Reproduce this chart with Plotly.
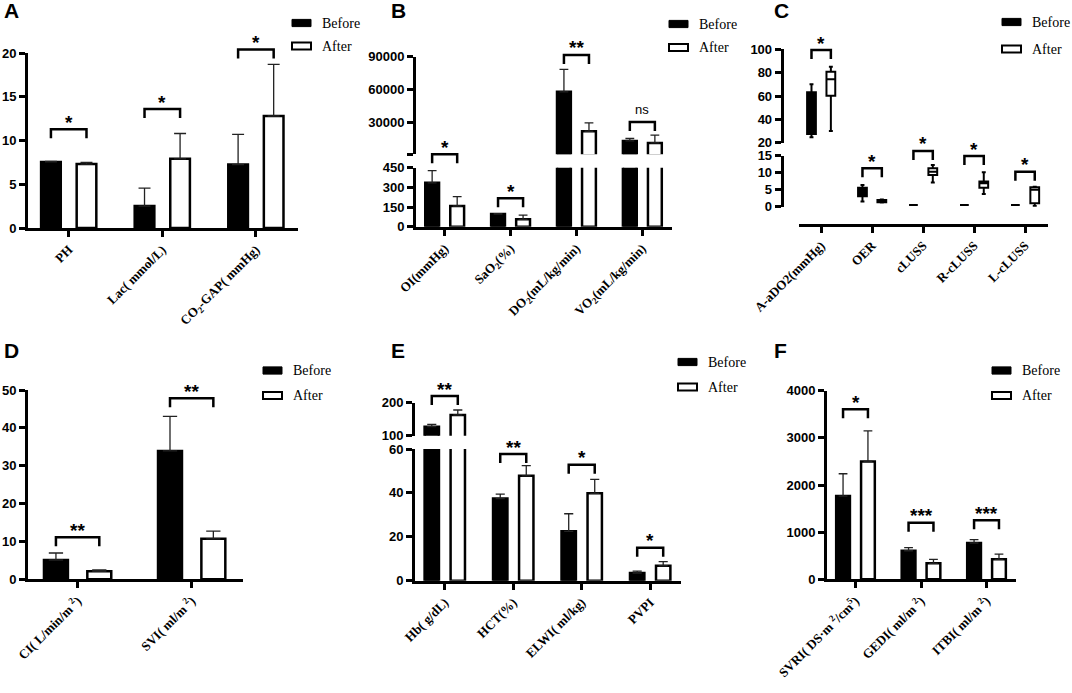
#
# Six panel before/after comparison (bars + SD, one box panel, broken axes)
#
import plotly.graph_objects as go

W, H = 1072, 693

# ---- A ----
a_cats = ["PH", "Lac( mmol/L)", "CO<sub>2</sub>-GAP( mmHg)"]
a_before = [7.55, 2.5, 7.25]
a_before_sd = [0.05, 2.05, 3.45]
a_after = [7.3, 7.9, 12.8]
a_after_sd = [0.2, 2.9, 5.9]
a_sig = ["*", "*", "*"]
a_bracket = [11.3, 13.6, 20.4]

# ---- B ----
b_cats = ["OI(mmHg)", "SaO<sub>2</sub>(%)", "DO<sub>2</sub>(mL/kg/min)", "VO<sub>2</sub>(mL/kg/min)"]
b_before = [335, 97, 58000, 13200]
b_before_sd = [92, 3, 20500, 2200]
b_after = [158, 56, 22000, 11400]
b_after_sd = [71, 33, 7600, 7000]
b_sig = ["*", "*", "**", "ns"]
b_bracket = [552, 217, 91600, 30500]

# ---- C (box plots) ----
c_cats = ["A-aDO2(mmHg)", "OER", "cLUSS", "R-cLUSS", "L-cLUSS"]
c_before_min = [24.6, 1.5, 0.5, 0.5, 0.5]
c_before_q1 = [27.5, 3.1, 0.5, 0.5, 0.5]
c_before_med = [45.0, 4.5, 0.5, 0.5, 0.5]
c_before_q3 = [63.2, 5.6, 0.5, 0.5, 0.5]
c_before_max = [70.0, 6.4, 0.5, 0.5, 0.5]
c_after_min = [30.0, 1.2, 7.1, 3.7, 0.2]
c_after_q1 = [60.3, 1.3, 9.3, 5.6, 1.0]
c_after_med = [74.3, 1.6, 10.3, 6.9, 5.0]
c_after_q3 = [80.8, 2.0, 11.3, 7.4, 5.7]
c_after_max = [85.1, 2.1, 12.3, 10.1, 5.9]
c_sig = ["*", "*", "*", "*", "*"]
c_bracket = [99.4, 11.3, 16.4, 14.9, 10.3]

# ---- D ----
d_cats = ["CI( L/min/m <sup>2</sup>)", "SVI( ml/m <sup>2</sup>)"]
d_before = [5.1, 33.9]
d_before_sd = [1.85, 9.15]
d_after = [2.1, 10.7]
d_after_sd = [0.35, 2.05]
d_sig = ["**", "**"]
d_bracket = [11.1, 47.8]

# ---- E ----
e_cats = ["Hb( g/dL)", "HCT(%)", "ELWI( ml/kg)", "PVPI"]
e_before = [127.3, 37.4, 22.5, 3.5]
e_before_sd = [7.2, 2.0, 8.0, 0.9]
e_after = [162.7, 47.8, 39.8, 6.8]
e_after_sd = [15.2, 4.6, 6.4, 1.9]
e_sig = ["**", "**", "*", "*"]
e_bracket = [220.3, 57.7, 52.8, 15.0]

# ---- F ----
f_cats = ["SVRI( DS·m <sup>2</sup>/cm<sup>5</sup>)", "GEDI( ml/m <sup>2</sup>)", "ITBI( ml/m <sup>2</sup>)"]
f_before = [1766, 606, 770]
f_before_sd = [473, 64, 70]
f_after = [2501, 339, 424]
f_after_sd = [649, 85, 112]
f_sig = ["*", "***", "***"]
f_bracket = [3604, 1200, 1251]

panels = [
    dict(key="A", cats=a_cats, before=a_before, before_sd=a_before_sd, after=a_after, after_sd=a_after_sd,
         sig=a_sig, bracket=a_bracket),
    dict(key="B", cats=b_cats, before=b_before, before_sd=b_before_sd, after=b_after, after_sd=b_after_sd,
         sig=b_sig, bracket=b_bracket),
    dict(key="C", cats=c_cats, sig=c_sig, bracket=c_bracket,
         box_before=(c_before_min, c_before_q1, c_before_med, c_before_q3, c_before_max),
         box_after=(c_after_min, c_after_q1, c_after_med, c_after_q3, c_after_max)),
    dict(key="D", cats=d_cats, before=d_before, before_sd=d_before_sd, after=d_after, after_sd=d_after_sd,
         sig=d_sig, bracket=d_bracket),
    dict(key="E", cats=e_cats, before=e_before, before_sd=e_before_sd, after=e_after, after_sd=e_after_sd,
         sig=e_sig, bracket=e_bracket),
    dict(key="F", cats=f_cats, before=f_before, before_sd=f_before_sd, after=f_after, after_sd=f_after_sd,
         sig=f_sig, bracket=f_bracket),
]

# geometry in screen pixels: x axis extent, y segments (lower first), legend and letter spots
LAYOUT = {
    "A": dict(x=(28, 298), segs=[((53, 228), (0, 20), [0, 5, 10, 15, 20], False)],
              legend=(292, 23, 23), letter=(2, 11)),
    "B": dict(x=(416, 672), segs=[((167.7, 226.7), (0, 450), [0, 150, 300, 450], False),
                                  ((56.7, 154.3), (1000, 90000), [1000, 30000, 60000, 90000], True)],
              legend=(669, 24, 23.5), letter=(389, 11)),
    "C": dict(x=(799, 1048), yline=781.7, xline=225,
              segs=[((155.7, 206.7), (0, 15), [0, 5, 10, 15], False),
                    ((49.3, 142.7), (20, 100), [20, 40, 60, 80, 100], False)],
              legend=(1002, 22, 27), letter=(772, 11)),
    "D": dict(x=(28, 243), segs=[((390, 579.3), (0, 50), [0, 10, 20, 30, 40, 50], False)],
              legend=(263, 370.5, 25), letter=(2, 351)),
    "E": dict(x=(415, 681), segs=[((449, 580.7), (0, 60), [0, 20, 40, 60], False),
                                  ((402.7, 435.7), (100, 200), [100, 200], False)],
              legend=(678, 362, 25), letter=(389, 351)),
    "F": dict(x=(827, 1016), segs=[((390.7, 579.3), (0, 4000), [0, 1000, 2000, 3000, 4000], False)],
              legend=(992, 370.5, 25), letter=(772, 351)),
}

OFF, BW = 0.19, 0.21          # bar centre offset / bar width, in category units
LW = 2.5
SANS = "Liberation Sans, Arial, sans-serif"
SERIF = "Liberation Serif, Times New Roman, serif"


def xp(v):
    return v / W


def yp(v):
    return 1 - v / H


def frac(v, rng):
    return (v - rng[0]) / (rng[1] - rng[0])


fig = go.Figure()
shapes, annos, axes = [], [], {}
yi = 0

for k, p in enumerate(panels, start=1):
    L = LAYOUT[p["key"]]
    xname = "x" if k == 1 else "x%d" % k
    n = len(p["cats"])
    x0, x1 = L["x"]
    ppc = (x1 - x0) / (n - 0.55 + 0.435)
    is_box = "box_before" in p
    ynames = []

    for (top, bot), rng, ticks, hide_first in L["segs"]:
        yi += 1
        yname = "y" if yi == 1 else "y%d" % yi
        ynames.append((yname, rng))
        texts = [str(t) for t in ticks]
        if hide_first:
            texts[0] = ""
        yax = dict(domain=[yp(bot), yp(top)], range=list(rng), tickmode="array", tickvals=ticks,
                   ticktext=texts, showline=True, linewidth=3, linecolor="black", ticks="outside",
                   ticklen=6, tickwidth=LW, tickcolor="black", showgrid=False, zeroline=False,
                   automargin=False,
                   tickfont=dict(family=SANS, size=13, color="black", weight="bold"))
        if "yline" in L:
            yax.update(anchor="free", position=xp(L["yline"]))
        else:
            yax.update(anchor=xname)
        axes["yaxis" if yi == 1 else "yaxis%d" % yi] = yax

        if is_box:
            for vals, dx, fill in [(p["box_before"], -OFF, "black"), (p["box_after"], OFF, "white")]:
                lo, q1, med, q3, hi = vals
                # only the boxes that reach into this segment
                idx = [i for i in range(n) if hi[i] > rng[0] and lo[i] < rng[1]]
                fig.add_trace(go.Box(x=[i + dx for i in idx], lowerfence=[lo[i] for i in idx],
                                     q1=[q1[i] for i in idx], median=[med[i] for i in idx],
                                     q3=[q3[i] for i in idx], upperfence=[hi[i] for i in idx],
                                     width=BW * 0.82, fillcolor=fill,
                                     line=dict(color="black", width=2), whiskerwidth=0.45,
                                     boxpoints=False, xaxis=xname, yaxis=yname, showlegend=False,
                                     hoverinfo="skip"))
        else:
            cap = 0.27 * (BW * ppc + LW)
            for vals, sd, dx, fill in [(p["before"], p["before_sd"], -OFF, "black"),
                                       (p["after"], p["after_sd"], OFF, "white")]:
                # bars that never reach this segment are left out
                seg_vals = [v if v > rng[0] else None for v in vals]
                fig.add_trace(go.Bar(x=p["cats"], y=seg_vals, offset=dx - BW / 2, width=BW,
                                     marker=dict(color=fill, line=dict(color="black", width=LW)),
                                     error_y=dict(type="data", array=sd, arrayminus=[0] * n,
                                                  symmetric=False, color="#222", thickness=1.3,
                                                  width=cap),
                                     xaxis=xname, yaxis=yname, showlegend=False, hoverinfo="skip"))

    xax = dict(domain=[xp(x0), xp(x1)], range=[-0.435, n - 0.55], showline=True, linewidth=3,
               linecolor="black", ticks="outside", ticklen=6, tickwidth=LW, tickcolor="black",
               tickangle=-45, showgrid=False, zeroline=False, automargin=False,
               tickfont=dict(family=SERIF, size=13, color="black", weight="bold"))
    if is_box:
        xax.update(type="linear", tickmode="array", tickvals=list(range(n)), ticktext=p["cats"],
                   anchor="free", position=yp(L["xline"]))
    else:
        xax.update(type="category", categoryorder="array", categoryarray=p["cats"],
                   anchor=ynames[0][0])
    axes["xaxis" if k == 1 else "xaxis%d" % k] = xax

    # significance brackets, placed on the segment holding the tallest mark
    for i in range(n):
        if is_box:
            mx = max(p["box_before"][4][i], p["box_after"][4][i])
        else:
            mx = max(p["before"][i] + p["before_sd"][i], p["after"][i] + p["after_sd"][i])
        seg = 0 if (len(ynames) == 1 or mx <= ynames[0][1][1]) else 1
        yname, rng = ynames[seg]
        yf = frac(p["bracket"][i], rng)
        shapes.append(dict(type="path", xref=xname, yref=yname + " domain", ysizemode="pixel",
                           yanchor=yf,
                           path="M %.3f,-9 L %.3f,0 L %.3f,0 L %.3f,-9" % (i - OFF, i - OFF, i + OFF, i + OFF),
                           line=dict(color="black", width=LW), layer="above"))
        s = p["sig"][i]
        if s == "ns":
            font, shift = dict(family=SANS, size=13, color="black"), 3
        else:
            font, shift = dict(family=SANS, size=19, color="black", weight="bold"), -5.5
        annos.append(dict(text=s, x=i, y=yf, xref=xname, yref=yname + " domain", xanchor="center",
                          yanchor="bottom", yshift=shift, showarrow=False, font=font))

    # legend
    lx, ly, gap = L["legend"]
    for j, (name, fill) in enumerate([("Before", "black"), ("After", "white")]):
        cy = ly + j * gap
        shapes.append(dict(type="rect", xref="paper", yref="paper", x0=xp(lx), x1=xp(lx + 19),
                           y0=yp(cy + 3.6), y1=yp(cy - 3.6), fillcolor=fill,
                           line=dict(color="black", width=2 if fill == "white" else 1)))
        annos.append(dict(text=name, x=xp(lx + 28), y=yp(cy), xref="paper", yref="paper",
                          xanchor="left", yanchor="middle", showarrow=False,
                          font=dict(family=SERIF, size=14, color="black")))

    # panel letter
    annos.append(dict(text="<b>%s</b>" % p["key"], x=xp(L["letter"][0]), y=yp(L["letter"][1]),
                      xref="paper", yref="paper", xanchor="left", yanchor="middle", showarrow=False,
                      font=dict(family=SANS, size=21, color="black")))

fig.update_layout(width=W, height=H, margin=dict(l=0, r=0, t=0, b=0), showlegend=False,
                  barmode="overlay", boxmode="overlay", plot_bgcolor="white", paper_bgcolor="white",
                  shapes=shapes, annotations=annos, **axes)

# the page's default 8px body margin would push the figure off its 1072x693 window
fig.write_html("out.html", config={"displayModeBar": False},
               post_script="document.body.style.margin='0px';")
